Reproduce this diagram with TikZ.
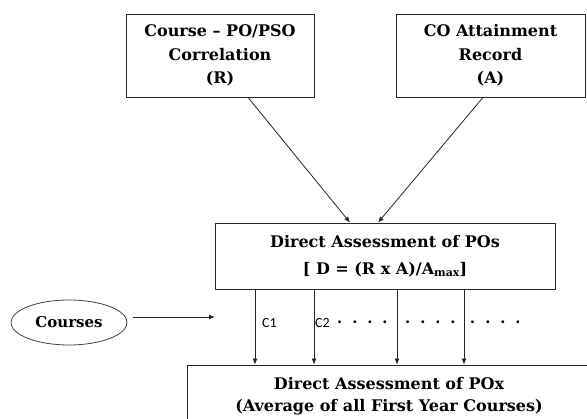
\documentclass[tikz,border=0pt]{standalone}
\usepackage{fontspec}
\setmainfont{DejaVu Serif}
\newfontfamily\labfont{Carlito}
\usetikzlibrary{calc,arrows.meta,shapes.geometric}

\newcommand{\dotrun}{.\hspace{10pt}.\hspace{10pt}.\hspace{10pt}.}

\begin{document}
\begin{tikzpicture}[
		x=1pt, y=-1pt,
		line join=round,
		>={Latex[length=6pt,width=5pt]},
		box/.style={draw=black!85, line width=0.8pt, align=center, inner sep=0pt,
			font=\bfseries\fontsize{16}{23.5}\selectfont},
		oval/.style={ellipse, draw=black!75, line width=0.8pt, inner sep=0pt,
			minimum width=116pt, minimum height=45pt, font=\bfseries\fontsize{15}{17}\selectfont},
		link/.style={->, draw=black!85, line width=0.8pt},
		clab/.style={font=\labfont\fontsize{14}{16}\selectfont, inner sep=0pt},
		dotlab/.style={font=\labfont\bfseries\fontsize{19}{20}\selectfont, inner sep=0pt}
	]
	
	% Frame
	\useasboundingbox (0,0) rectangle (587,419);
	
	% Boxes
	\node[box, minimum width=188pt, minimum height=83pt] (corr) at (220,55.5)
		{Course -- PO/PSO\\Correlation\\(R)};
	\node[box, minimum width=189pt, minimum height=83pt] (coatt) at (490.5,55.5)
		{CO Attainment\\Record\\(A)};
	\node[box, minimum width=340pt, minimum height=66pt, font=\bfseries\fontsize{16}{27}\selectfont] (direct) at (385,256)
		{Direct Assessment of POs\\{}[ D = (R x A)/A\raisebox{-0.35ex}{\fontsize{11}{11}\selectfont max}]};
	\node[box, minimum width=404pt, minimum height=62pt, font=\bfseries\fontsize{16}{22}\selectfont] (pox) at (389,396)
		{Direct Assessment of POx\\(Average of all First Year Courses)};
	\node[oval] (courses) at (69,322.5) {Courses};
	
	% Inputs to the direct assessment
	\draw[link] ($(corr.south)+(28,0)$) -- ($(direct.north)+(-35,0)$);
	\draw[link] ($(coatt.south)+(-7.5,0)$) -- ($(direct.north)+(-7,0)$);
	
	% Course columns
	\coordinate (c1) at (255,0);
	\coordinate (c2) at (314,0);
	\coordinate (c3) at (397,0);
	\coordinate (c4) at (464,0);
	\foreach \c in {c1,c2,c3,c4} {
		\draw[link] (direct.south -| \c) -- (pox.north -| \c);
	}
	
	% Courses arrow
	\coordinate (cin) at (215,317);
	\draw[link] ($(courses.east)+(6,-5.5)$) -- (cin);
	
	% Column labels
	\node[clab, anchor=west] (lc1) at (262,323) {C1};
	\node[clab, anchor=west] (lc2) at (315,323) {C2};
	\node[dotlab, anchor=west] (d1) at (337,322) {\dotrun};
	\node[dotlab, anchor=west] (d2) at (405,322) {\dotrun};
	\node[dotlab, anchor=west] (d3) at (470,322) {\dotrun};
	
\end{tikzpicture}
\end{document}
